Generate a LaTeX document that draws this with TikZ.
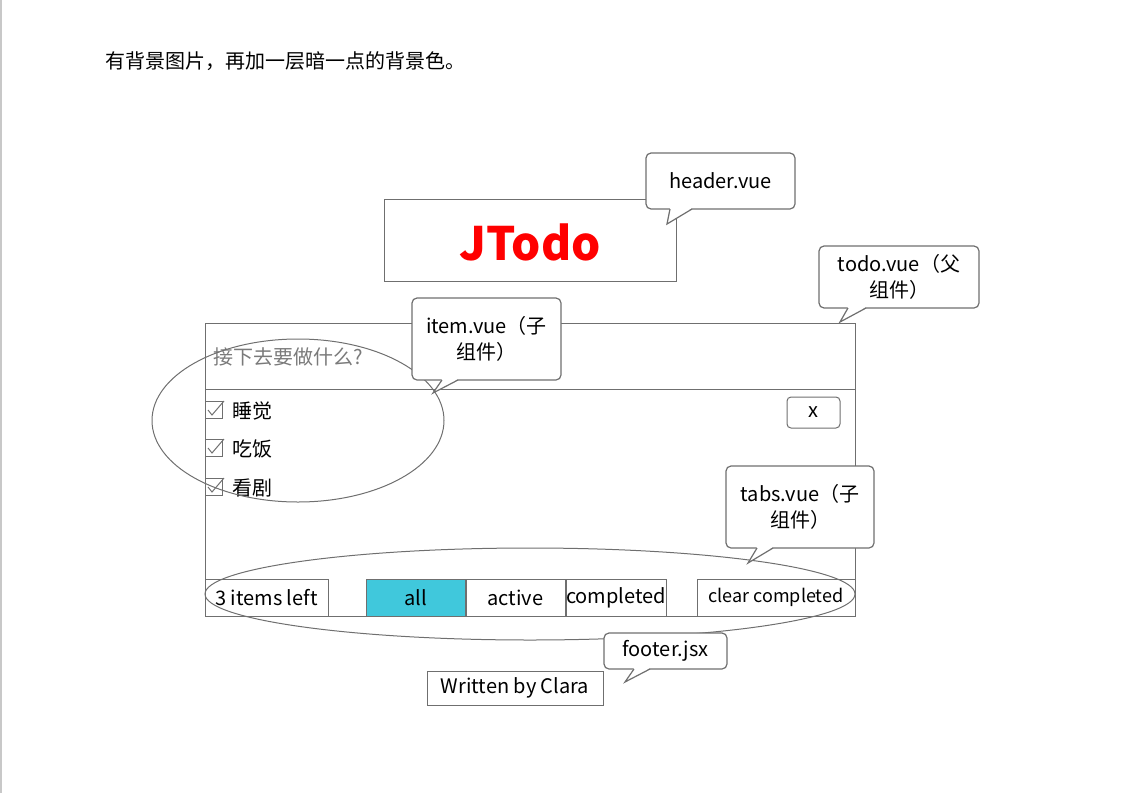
\documentclass[tikz,border=0pt]{standalone}
\usepackage{fontspec}
\setmainfont{Noto Sans CJK SC}
\usetikzlibrary{positioning,calc,shapes.geometric}
\definecolor{edge}{HTML}{6F6F6F}
\definecolor{tabon}{HTML}{40C8DC}
\definecolor{hint}{HTML}{7A7A7A}
\definecolor{pageline}{HTML}{C8C8C8}
\tikzset{
  frame/.style={draw=edge, line width=1pt, inner sep=0pt, minimum height=37pt},
  bubble/.style={draw=edge, line width=1.2pt, fill=white, rounded corners=5pt, align=center, inner sep=0pt},
  tick/.style={draw=edge, line width=1pt, minimum width=17pt, minimum height=17pt, inner sep=0pt},
  oval/.style={draw=edge, line width=1pt, ellipse, inner sep=0pt},
  tailline/.style={draw=edge, line width=1.2pt, line join=miter}
}
\newcommand{\calltail}[4]{%
  \fill[white] ($(#2,0 |- #1.south)+(0,-1.6)$) -- (#4) -- ($(#3,0 |- #1.south)+(0,-1.6)$) -- cycle;
  \draw[tailline] ($(#2,0 |- #1.south)+(0,-0.6)$) -- (#4) -- ($(#3,0 |- #1.south)+(0,-0.6)$);}
\newcommand{\tickmark}[1]{%
  \draw[edge, line width=1pt] ($(#1.center)+(-6,0)$) -- ($(#1.center)+(-2,5)$) -- ($(#1.north east)+(1,0)$);}

\begin{document}
\begin{tikzpicture}[x=1pt, y=-1pt, font=\fontsize{20}{26}\selectfont]
  \useasboundingbox (0,0) rectangle (1141,793);
  \fill[pageline] (0,0) rectangle (2,793);

  \node[anchor=west, inner sep=0pt] (note) at (105,61) {有背景图片，再加一层暗一点的背景色。};

  \node[frame, minimum width=292pt, minimum height=82pt] (head) at (530,240) {};
  \node[text=red, font=\fontsize{46}{50}\selectfont\bfseries] (logo) at (530,242) {JTodo};

  \node[frame, minimum width=650pt, minimum height=293pt] (todo) at (530,469.5) {};
  \node[frame, minimum width=650pt, minimum height=66pt, anchor=north] (input) at (todo.north) {};
  \node[anchor=west, inner sep=0pt, text=hint] (hinttext) at (213,357) {接下去要做什么?};

  \node[tick] (cb1) at (214,410) {};
  \node[tick] (cb2) at (214,448) {};
  \node[tick] (cb3) at (214,487) {};
  \tickmark{cb1}
  \tickmark{cb2}
  \tickmark{cb3}
  \node[anchor=west, inner sep=0pt] (sleep) at (232,411) {睡觉};
  \node[anchor=west, inner sep=0pt] (eat) at (232,449) {吃饭};
  \node[anchor=west, inner sep=0pt] (show) at (232,488) {看剧};

  \node[frame, rounded corners=4pt, minimum width=53pt, minimum height=31pt] (del) at (813.5,412.5) {x};

  \node[frame, minimum width=123pt] (left) at (266.5,597.5) {3 items left};
  \node[frame, fill=tabon, minimum width=99pt] (all) at (415.5,597.5) {all};
  \node[frame, minimum width=99pt, right=0pt of all] (active) {active};
  \node[frame, minimum width=97pt, right=0pt of active] (done) {completed};
  \node[frame, minimum width=158pt, font=\fontsize{18}{22}\selectfont] (clear) at (776,597.5) {clear completed};

  \node[frame, minimum width=176pt, minimum height=34pt] (author) at (515,688) {Written by Clara};

  \node[oval, minimum width=292pt, minimum height=163pt] (itemring) at (298,420.5) {};
  \node[oval, minimum width=650pt, minimum height=92pt] (tabring) at (530,594) {};

  \node[bubble, minimum width=149pt, minimum height=56pt] (headtag) at (720.5,181) {header.vue};
  \coordinate (headtip) at (667,224);
  \calltail{headtag}{670}{692}{headtip}

  \node[bubble, minimum width=160pt, minimum height=62pt] (todotag) at (899,277) {todo.vue（父\\组件）};
  \coordinate (todotip) at (840,322);
  \calltail{todotag}{848}{866}{todotip}

  \node[bubble, minimum width=149pt, minimum height=82pt] (itemtag) at (486.5,339) {item.vue（子\\组件）};
  \coordinate (itemtip) at (433,393);
  \calltail{itemtag}{442}{458}{itemtip}

  \node[bubble, minimum width=148pt, minimum height=82pt] (tabstag) at (800,507) {tabs.vue（子\\组件）};
  \coordinate (tabstip) at (748,563);
  \calltail{tabstag}{757}{773}{tabstip}

  \node[bubble, minimum width=123pt, minimum height=36pt] (foottag) at (665.5,651) {footer.jsx};
  \coordinate (foottip) at (625,682);
  \calltail{foottag}{634}{650}{foottip}
\end{tikzpicture}
\end{document}
